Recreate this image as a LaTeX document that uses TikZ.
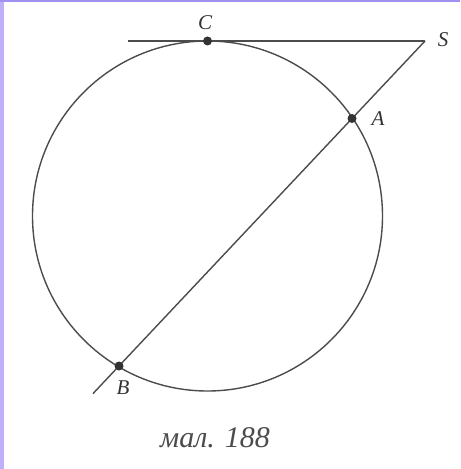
\documentclass[tikz,border=0pt]{standalone}
\usepackage{fontspec}
\setmainfont{Liberation Serif}
\usepackage{xcolor}
\usepackage{tikz}

\definecolor{frameside}{RGB}{192,176,252}
\definecolor{frametop}{RGB}{160,144,240}

\begin{document}
\begin{tikzpicture}[
  x=0.5pt, y=-0.5pt,
  line/.style={line width=0.7pt, draw=black!70},
  dot/.style={circle, fill=black!80, inner sep=0pt, minimum size=4.5pt},
  lbl/.style={font=\fontsize{10.5}{12}\selectfont\itshape, text=black!80, inner sep=0pt},
  captext/.style={font=\fontsize{15}{18}\selectfont\itshape, text=black!70, inner sep=0pt}
]
% canvas and frame
\useasboundingbox (0,0) rectangle (460,469);
\fill[white] (0,0) rectangle (460,469);
\fill[frameside] (0,0) rectangle (4,469);
\fill[frametop] (0,0) rectangle (460,2);

% points
\coordinate (O) at (207.5,216);
\coordinate (C) at (207.5,41);
\coordinate (S) at (425,41);
\coordinate (T) at (128,41);
\coordinate (A) at (352,118.5);
\coordinate (B) at (119,366);
\coordinate (E) at (93,393.6);

% circle, tangent and secant
\draw[line] (O) circle[radius=87.5pt];
\draw[line] (T) -- (S);
\draw[line] (S) -- (E);

\node[dot] (dC) at (C) {};
\node[dot] (dA) at (A) {};
\node[dot] (dB) at (B) {};

% labels
\node[lbl] (labC) at (205,23) {C};
\node[lbl] (labS) at (443,40) {S};
\node[lbl] (labA) at (378,119) {A};
\node[lbl] (labB) at (123,388) {B};

\node[captext] (caption) at (215,438) {мал. 188};
\end{tikzpicture}
\end{document}
